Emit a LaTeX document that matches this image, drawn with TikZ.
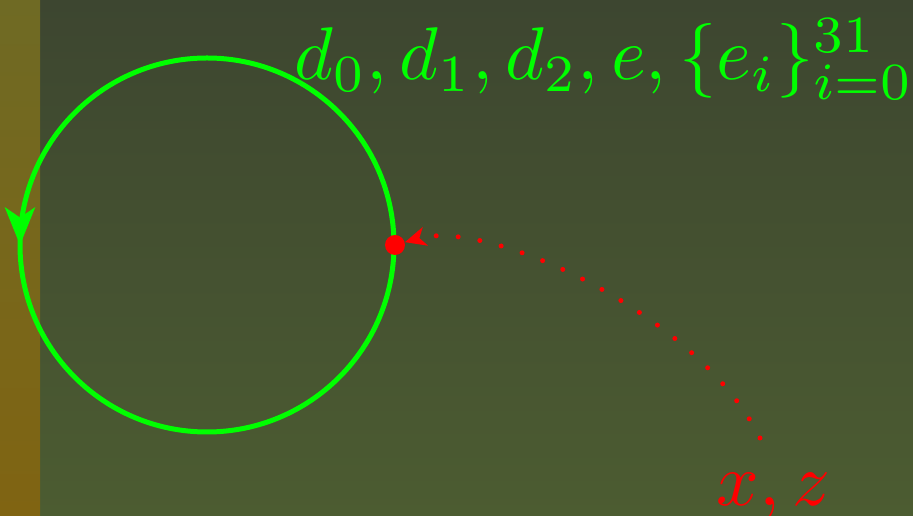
\documentclass[tikz,border=0pt]{standalone}
\usetikzlibrary{arrows.meta,decorations.markings}
\definecolor{bgtop}{HTML}{3D4630}
\definecolor{bgbot}{HTML}{4C5C31}
\definecolor{striptop}{HTML}{6F6A24}
\definecolor{stripbot}{HTML}{806412}
\definecolor{lime}{RGB}{0,255,0}
\definecolor{hitred}{RGB}{255,0,0}

\begin{document}
\begin{tikzpicture}[
  x=0.02cm,y=0.02cm,
  orbit/.style={draw=lime,line width=0.1cm,
    postaction={decorate},
    decoration={markings,mark=at position 0.5 with
      {\arrow{Stealth[length=0.75cm,width=0.6cm,inset=0.2cm]}}}},
  trail/.style={draw=hitred,line width=0.1cm,line cap=round,
    dash pattern=on 0pt off 0.44cm,
    -{Stealth[length=0.42cm,width=0.38cm,inset=0.12cm,fill=hitred]}},
  hitdot/.style={circle,fill=hitred,inner sep=0pt,minimum size=0.4cm},
  biglabel/.style={scale=4.25,inner sep=0pt,anchor=base west}
]
\useasboundingbox (0,0) rectangle (913,516);
\shade[top color=bgtop,bottom color=bgbot] (0,0) rectangle (913,516);
\shade[top color=striptop,bottom color=stripbot] (0,0) rectangle (40,516);

\coordinate (centre) at (207,271);
\coordinate (tail) at (760,78);

\draw[orbit] (centre) ++(0:187) arc[start angle=0,end angle=360,radius=187];
\node[hitdot] (hit) at (395,271) {};

\node[biglabel,text=lime] (params) at (293,436)
  {$d_0, d_1, d_2, e, \{e_i\}_{i=0}^{31}$};
\node[biglabel,text=hitred] (inputs) at (715,10) {$x, z$};

\draw[trail] (tail) .. controls (700,200) and (490,298) .. (hit);
\end{tikzpicture}
\end{document}
